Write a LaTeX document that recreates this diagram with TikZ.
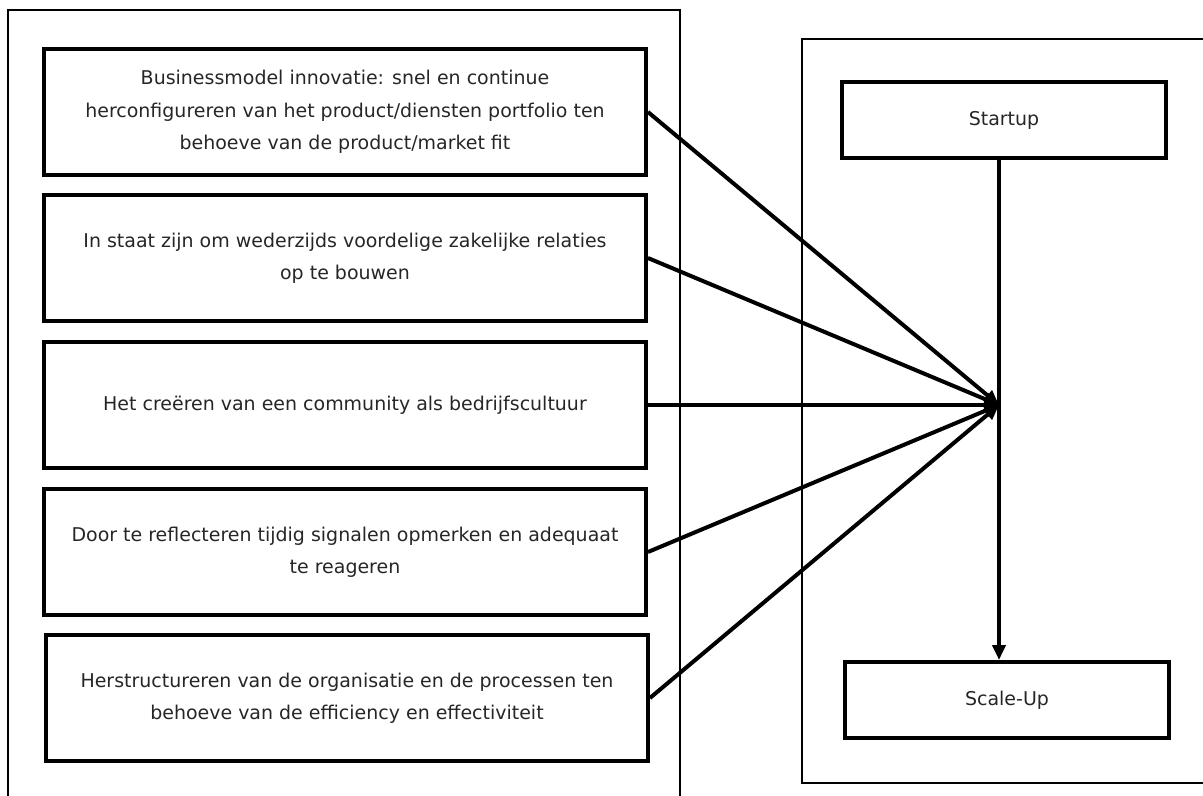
\documentclass[tikz,border=0pt]{standalone}
\usepackage{fontspec}
\setmainfont{DejaVu Sans}
\usetikzlibrary{arrows.meta}

\begin{document}
\begin{tikzpicture}[x=0.02cm, y=-0.02cm,
    factor/.style={draw, line width=0.08cm, minimum width=12.04cm, minimum height=2.52cm,
      inner sep=0pt, align=center, text=black!85, font=\fontsize{10.8}{18.4}\selectfont},
    phase/.style={draw, line width=0.08cm, minimum width=6.48cm, minimum height=1.52cm,
      inner sep=0pt, text=black!85, font=\fontsize{10.8}{18.4}\selectfont},
    link/.style={line width=0.08cm, -{Triangle[length=0.3cm, width=0.26cm]}},
    frame/.style={line width=0.04cm}]
            \useasboundingbox (0,0) rectangle (1203,795);

            % outer frames
            \draw[frame] (8,805) -- (8,10) -- (680,10) -- (680,805);
            \draw[frame] (1210,39) -- (802,39) -- (802,783) -- (1210,783);

            % success factors
            \node[factor] (F1) at (345,112) {Businessmodel innovatie: snel en continue\\herconfigureren van het product/diensten portfolio ten\\behoeve van de product/market fit};
            \node[factor] (F2) at (345,258) {In staat zijn om wederzijds voordelige zakelijke relaties\\op te bouwen};
            \node[factor] (F3) at (345,405) {Het creëren van een community als bedrijfscultuur};
            \node[factor] (F4) at (345,552) {Door te reflecteren tijdig signalen opmerken en adequaat\\te reageren};
            \node[factor] (F5) at (347,698) {Herstructureren van de organisatie en de processen ten\\behoeve van de efficiency en effectiviteit};

            % growth phases
            \node[phase] (S) at (1004,120) {Startup};
            \node[phase] (U) at (1007,700) {Scale-Up};
            \coordinate (hub) at (999,405);

            \draw[link] (F1.east) -- (hub);
            \draw[link] (F2.east) -- (hub);
            \draw[link] (F3.east) -- (hub);
            \draw[link] (F4.east) -- (hub);
            \draw[link] (F5.east) -- (hub);
            \draw[link] (S.south -| hub) -- (U.north -| hub);
        \end{tikzpicture}
\end{document}
